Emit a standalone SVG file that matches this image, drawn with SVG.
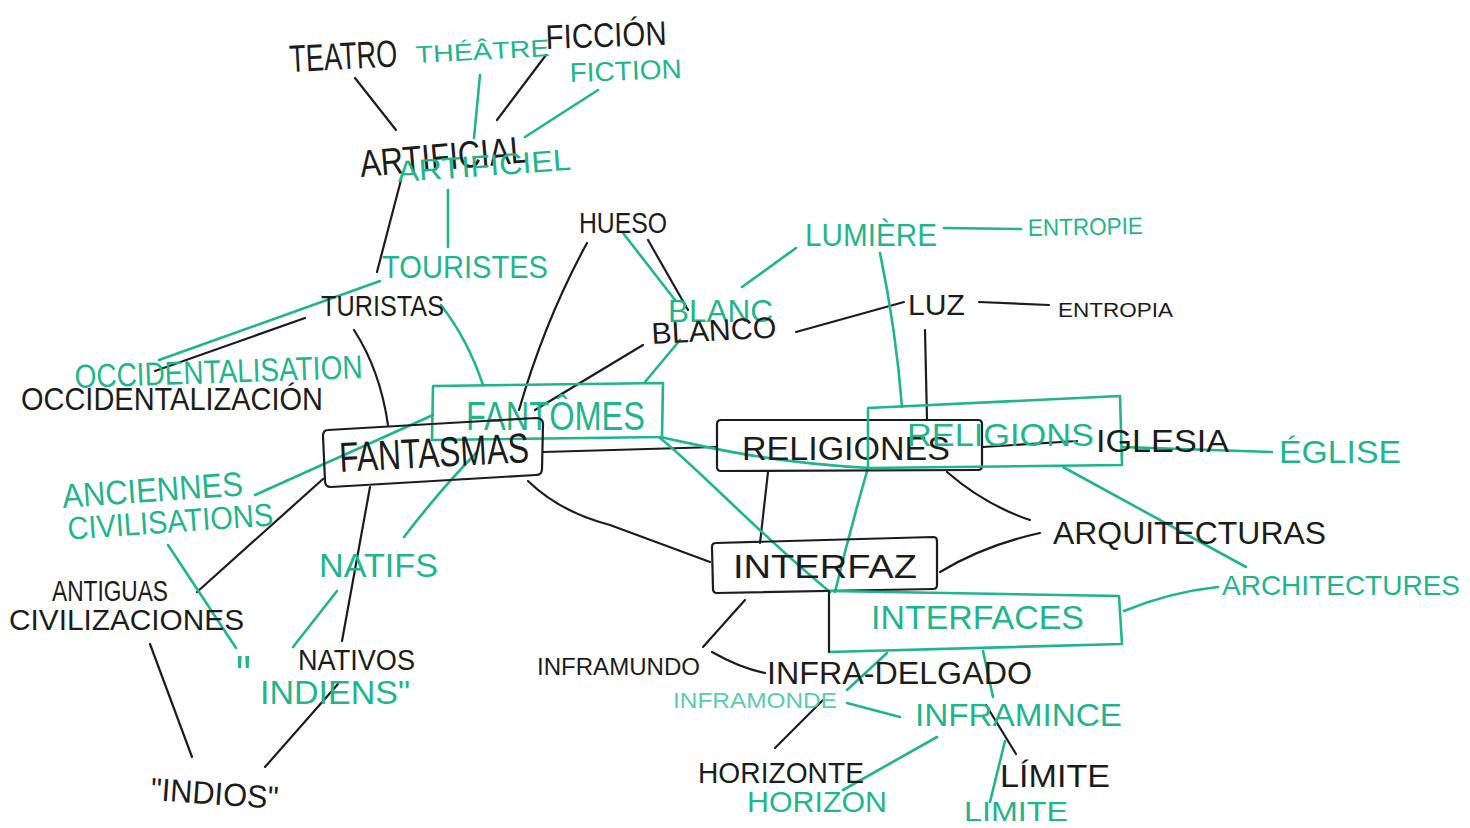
<svg xmlns="http://www.w3.org/2000/svg" width="1470" height="828" viewBox="0 0 1470 828">
<style>
text{font-family:"Liberation Sans","DejaVu Sans",sans-serif;}
.k{fill:#1c1c1c;}
.g{fill:#1fb58e;}
.gp{fill:#58cdb0;}
.lk{fill:none;stroke:#1c1c1c;stroke-width:2.2;stroke-linecap:round;stroke-linejoin:round;}
.lg{fill:none;stroke:#1fb58e;stroke-width:2.6;stroke-linecap:round;stroke-linejoin:round;}
</style>
<rect width="1470" height="828" fill="#ffffff"/>
<g id="connectors">
  <!-- black -->
  <path class="lk" d="M355,78 L396,130"/>
  <path class="lk" d="M546,55 L497,120"/>
  <path class="lk" d="M401,180 L377,272"/>
  <path class="lk" d="M305,318 L155,371"/>
  <path class="lk" d="M354,330 Q380,370 388,425"/>
  <path class="lk" d="M587,243 Q545,320 519,410"/>
  <path class="lk" d="M648,240 L688,310"/>
  <path class="lk" d="M643,345 L535,410"/>
  <path class="lk" d="M796,332 L904,302"/>
  <path class="lk" d="M979,302 L1049,305"/>
  <path class="lk" d="M925,330 L927,420"/>
  <path class="lk" d="M543,452 L717,447"/>
  <path class="lk" d="M983,447 L1077,441"/>
  <path class="lk" d="M768,472 L760,543"/>
  <path class="lk" d="M947,472 Q985,505 1030,520"/>
  <path class="lk" d="M940,572 Q985,545 1040,533"/>
  <path class="lk" d="M528,481 Q560,512 610,525 L710,562"/>
  <path class="lk" d="M323,479 L197,592"/>
  <path class="lk" d="M370,487 L342,641"/>
  <path class="lk" d="M150,644 L192,757"/>
  <path class="lk" d="M338,684 L265,767"/>
  <path class="lk" d="M745,600 L703,647"/>
  <path class="lk" d="M712,652 Q740,668 765,673"/>
  <path class="lk" d="M823,700 L775,748"/>
  <path class="lk" d="M986,705 L1016,754"/>
  <!-- green -->
  <path class="lg" d="M480,75 L474,138"/>
  <path class="lg" d="M598,90 L525,137"/>
  <path class="lg" d="M448,190 L448,247"/>
  <path class="lg" d="M380,281 L159,360"/>
  <path class="lg" d="M441,305 Q468,340 483,385"/>
  <path class="lg" d="M623,233 L675,300"/>
  <path class="lg" d="M742,287 L796,248"/>
  <path class="lg" d="M944,228 L1021,229"/>
  <path class="lg" d="M880,253 Q896,330 902,407"/>
  <path class="lg" d="M680,340 L645,382"/>
  <path class="lg" d="M255,495 L433,415"/>
  <path class="lg" d="M477,452 Q440,490 404,537"/>
  <path class="lg" d="M337,591 L293,647"/>
  <path class="lg" d="M168,545 L236,648"/>
  <path class="lg" d="M660,437 C700,445 760,462 870,468"/>
  <path class="lg" d="M660,438 C700,470 760,535 830,592"/>
  <path class="lg" d="M868,468 Q850,530 835,592"/>
  <path class="lg" d="M1122,447 L1272,452"/>
  <path class="lg" d="M1063,467 L1246,567"/>
  <path class="lg" d="M1124,611 Q1170,592 1218,587"/>
  <path class="lg" d="M887,653 L847,690"/>
  <path class="lg" d="M847,703 L900,717"/>
  <path class="lg" d="M937,737 L843,790"/>
  <path class="lg" d="M983,651 L993,697"/>
  <path class="lg" d="M1005,741 L990,802"/>
</g>

<g id="node-fantomes">
  <path class="lg" d="M433,386 L663,383 L662,437 L432,440 Z"/>
  <text class="g" x="466" y="430" font-size="40" textLength="179" lengthAdjust="spacingAndGlyphs">FANTÔMES</text>
</g>
<g id="node-fantasmas">
  <path class="lk" d="M328,430 L536,418 Q543,418 543,424 L542,469 Q542,475 536,475 L331,487 Q325,487 325,481 L323,436 Q323,430 328,430 Z"/>
  <text class="k" x="340" y="472" font-size="42" textLength="190" lengthAdjust="spacingAndGlyphs" transform="rotate(-3 340 472)">FANTASMAS</text>
</g>
<g id="node-religiones">
  <path class="lk" d="M721,420 L978,420 Q982,420 982,424 L982,466 Q982,470 978,470 L721,471 Q717,471 717,467 L717,424 Q717,420 721,420 Z"/>
  <text class="k" x="742" y="460" font-size="34" textLength="208" lengthAdjust="spacingAndGlyphs">RELIGIONES</text>
</g>
<g id="node-religions">
  <path class="lg" d="M868,408 L1120,396 L1122,465 L868,468 Z"/>
  <text class="g" x="907" y="446" font-size="31" textLength="187" lengthAdjust="spacingAndGlyphs">RELIGIONS</text>
</g>
<g id="node-interfaz">
  <path class="lk" d="M716,543 L933,537 Q937,537 937,541 L937,585 Q937,589 933,589 L717,593 Q713,593 713,589 L712,547 Q712,543 716,543 Z"/>
  <text class="k" x="733" y="578" font-size="33" textLength="184" lengthAdjust="spacingAndGlyphs">INTERFAZ</text>
</g>
<g id="node-interfaces">
  <path class="lg" d="M829,591 L1119,596 L1122,644 L829,652"/>
  <path class="lk" d="M829,591 L829,652"/>
  <text class="g" x="871" y="629" font-size="33" textLength="213" lengthAdjust="spacingAndGlyphs">INTERFACES</text>
</g>

<g id="node-teatro"><text class="k" x="290" y="72" font-size="38" textLength="108" lengthAdjust="spacingAndGlyphs" transform="rotate(-3 290 72)">TEATRO</text></g>
<g id="node-theatre"><text class="g" x="416" y="63" font-size="24" textLength="134" lengthAdjust="spacingAndGlyphs" transform="rotate(-3 416 63)">THÉÂTRE</text></g>
<g id="node-ficcion"><text class="k" x="546" y="49" font-size="34" textLength="121" lengthAdjust="spacingAndGlyphs" transform="rotate(-2 546 49)">FICCIÓN</text></g>
<g id="node-fiction"><text class="g" x="570" y="82" font-size="27" textLength="112" lengthAdjust="spacingAndGlyphs" transform="rotate(-2 570 82)">FICTION</text></g>
<g id="node-artificial"><text class="k" x="361" y="177" font-size="38" textLength="168" lengthAdjust="spacingAndGlyphs" transform="rotate(-5 361 177)">ARTIFICIAL</text></g>
<g id="node-artificiel"><text class="g" x="398" y="182" font-size="30" textLength="174" lengthAdjust="spacingAndGlyphs" transform="rotate(-4 398 182)">ARTIFICIEL</text></g>
<g id="node-hueso"><text class="k" x="579" y="233" font-size="30" textLength="88" lengthAdjust="spacingAndGlyphs">HUESO</text></g>
<g id="node-touristes"><text class="g" x="382" y="278" font-size="31" textLength="166" lengthAdjust="spacingAndGlyphs">TOURISTES</text></g>
<g id="node-turistas"><text class="k" x="321" y="316" font-size="30" textLength="123" lengthAdjust="spacingAndGlyphs">TURISTAS</text></g>
<g id="node-occidentalisation"><text class="g" x="75" y="388" font-size="33" textLength="288" lengthAdjust="spacingAndGlyphs" transform="rotate(-2 75 388)">OCCIDENTALISATION</text></g>
<g id="node-occidentalizacion"><text class="k" x="21" y="410" font-size="31" textLength="302" lengthAdjust="spacingAndGlyphs">OCCIDENTALIZACIÓN</text></g>
<g id="node-blanc"><text class="g" x="668" y="322" font-size="32" textLength="105" lengthAdjust="spacingAndGlyphs">BLANC</text></g>
<g id="node-blanco"><text class="k" x="652" y="344" font-size="30" textLength="125" lengthAdjust="spacingAndGlyphs" transform="rotate(-3 652 344)">BLANCO</text></g>
<g id="node-lumiere"><text class="g" x="805" y="246" font-size="31" textLength="132" lengthAdjust="spacingAndGlyphs">LUMIÈRE</text></g>
<g id="node-entropie"><text class="g" x="1028" y="236" font-size="24" textLength="115" lengthAdjust="spacingAndGlyphs" transform="rotate(-1 1028 236)">ENTROPIE</text></g>
<g id="node-luz"><text class="k" x="908" y="315" font-size="30" textLength="57" lengthAdjust="spacingAndGlyphs">LUZ</text></g>
<g id="node-entropia"><text class="k" x="1058" y="317" font-size="21" textLength="115" lengthAdjust="spacingAndGlyphs">ENTROPIA</text></g>
<g id="node-iglesia"><text class="k" x="1096" y="452" font-size="32" textLength="133" lengthAdjust="spacingAndGlyphs">IGLESIA</text></g>
<g id="node-eglise"><text class="g" x="1279" y="463" font-size="32" textLength="122" lengthAdjust="spacingAndGlyphs">ÉGLISE</text></g>
<g id="node-anciennes"><text class="g" font-size="34" transform="rotate(-4 63 508)"><tspan x="63" y="508" textLength="181" lengthAdjust="spacingAndGlyphs">ANCIENNES</tspan><tspan x="66" y="540" textLength="206" lengthAdjust="spacingAndGlyphs" font-size="32">CIVILISATIONS</tspan></text></g>
<g id="node-natifs"><text class="g" x="319" y="577" font-size="34" textLength="119" lengthAdjust="spacingAndGlyphs">NATIFS</text></g>
<g id="node-arquitecturas"><text class="k" x="1053" y="544" font-size="32" textLength="273" lengthAdjust="spacingAndGlyphs">ARQUITECTURAS</text></g>
<g id="node-architectures"><text class="g" x="1222" y="595" font-size="28" textLength="238" lengthAdjust="spacingAndGlyphs">ARCHITECTURES</text></g>
<g id="node-antiguas"><text class="k" font-size="29"><tspan x="52" y="601" textLength="116" lengthAdjust="spacingAndGlyphs">ANTIGUAS</tspan><tspan x="9" y="630" textLength="235" lengthAdjust="spacingAndGlyphs">CIVILIZACIONES</tspan></text></g>
<g id="node-nativos"><text class="k" x="298" y="670" font-size="29" textLength="117" lengthAdjust="spacingAndGlyphs">NATIVOS</text></g>
<g id="node-indiens"><text class="g" x="236" y="694" font-size="56" textLength="15" lengthAdjust="spacingAndGlyphs">"</text><text class="g" x="260" y="704" font-size="34" textLength="150" lengthAdjust="spacingAndGlyphs">INDIENS"</text></g>
<g id="node-indios"><text class="k" x="150" y="800" font-size="32" textLength="128" lengthAdjust="spacingAndGlyphs" transform="rotate(4 150 800)">"INDIOS"</text></g>
<g id="node-inframundo"><text class="k" x="537" y="675" font-size="24" textLength="163" lengthAdjust="spacingAndGlyphs">INFRAMUNDO</text></g>
<g id="node-infradelgado"><text class="k" x="767" y="684" font-size="31" textLength="265" lengthAdjust="spacingAndGlyphs">INFRA-DELGADO</text></g>
<g id="node-inframonde"><text class="gp" x="673" y="708" font-size="22" textLength="164" lengthAdjust="spacingAndGlyphs">INFRAMONDE</text></g>
<g id="node-inframince"><text class="g" x="915" y="726" font-size="32" textLength="207" lengthAdjust="spacingAndGlyphs">INFRAMINCE</text></g>
<g id="node-horizonte"><text class="k" x="698" y="783" font-size="29" textLength="166" lengthAdjust="spacingAndGlyphs">HORIZONTE</text></g>
<g id="node-horizon"><text class="g" x="747" y="812" font-size="29" textLength="140" lengthAdjust="spacingAndGlyphs">HORIZON</text></g>
<g id="node-limite-es"><text class="k" x="1000" y="787" font-size="31" textLength="110" lengthAdjust="spacingAndGlyphs">LÍMITE</text></g>
<g id="node-limite-fr"><text class="g" x="964" y="821" font-size="28" textLength="104" lengthAdjust="spacingAndGlyphs">LIMITE</text></g>
</svg>
